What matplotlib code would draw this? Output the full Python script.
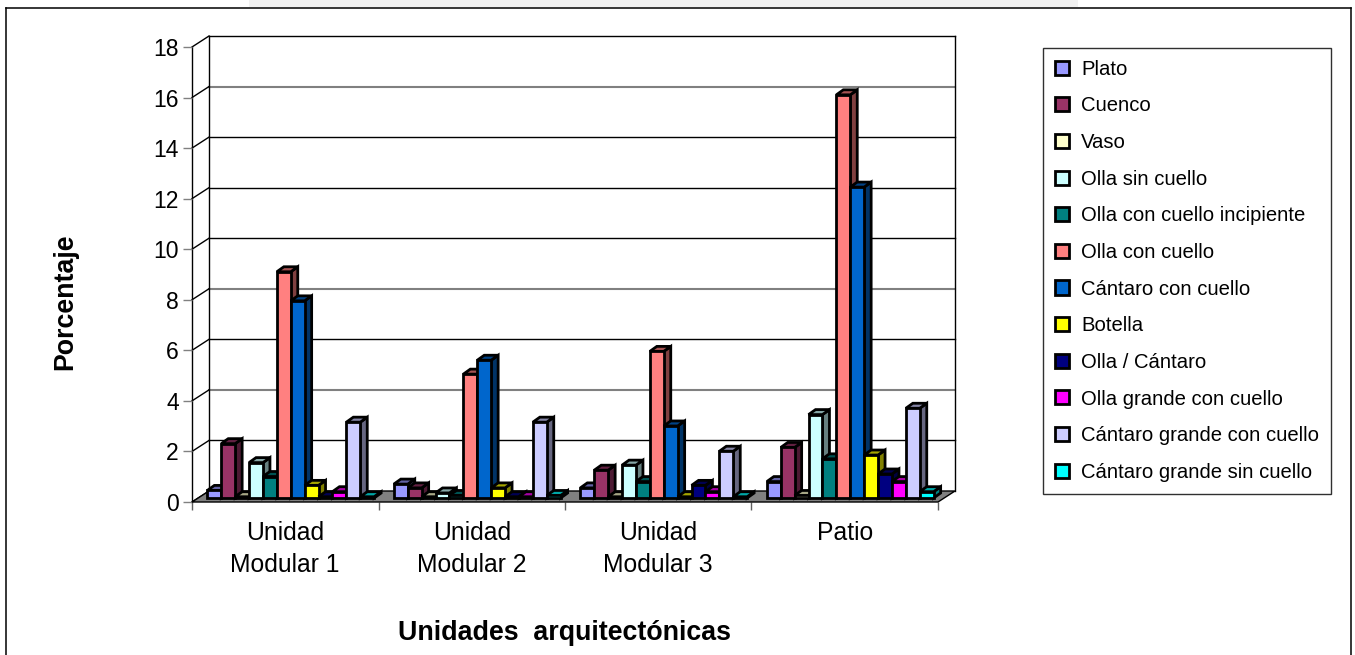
import numpy as np
import matplotlib
matplotlib.use("Agg")
import matplotlib.pyplot as plt
from matplotlib.patches import Polygon, Patch, Rectangle
from matplotlib.lines import Line2D

plt.rcParams['font.family'] = ['Liberation Sans', 'DejaVu Sans']

unidades = ["Unidad\nModular 1", "Unidad\nModular 2", "Unidad\nModular 3", "Patio"]
formas = ["Plato", "Cuenco", "Vaso", "Olla sin cuello", "Olla con cuello incipiente",
          "Olla con cuello", "Cántaro con cuello", "Botella", "Olla / Cántaro",
          "Olla grande con cuello", "Cántaro grande con cuello", "Cántaro grande sin cuello"]
colores = ["#9999FF", "#993366", "#FFFFCC", "#CCFFFF", "#008080", "#FF8080",
           "#0066CC", "#FFFF00", "#000080", "#FF00FF", "#CCCCFF", "#00FFFF"]

plato = [0.3, 0.55, 0.4, 0.65]
cuenco = [2.15, 0.4, 1.1, 2.0]
vaso = [0.05, 0.05, 0.05, 0.1]
olla_sin = [1.4, 0.2, 1.3, 3.3]
olla_incip = [0.85, 0.1, 0.65, 1.55]
olla_con = [8.95, 4.9, 5.8, 15.95]
cantaro_con = [7.8, 5.45, 2.85, 12.3]
botella = [0.5, 0.4, 0.05, 1.7]
olla_cantaro = [0.05, 0.05, 0.5, 0.95]
olla_grande = [0.25, 0.05, 0.25, 0.65]
cantaro_gr_con = [3.0, 3.0, 1.85, 3.55]
cantaro_gr_sin = [0.05, 0.1, 0.05, 0.25]
series = [plato, cuenco, vaso, olla_sin, olla_incip, olla_con, cantaro_con,
          botella, olla_cantaro, olla_grande, cantaro_gr_con, cantaro_gr_sin]

W, H = 1355, 655
# pixeles del plano frontal
X0, X1, Y0, Y18 = 192, 938, 502, 47
PX = 4 / (X1 - X0)
PY = 18 / (Y0 - Y18)
wall_dx, wall_dy = 17 * PX, 11 * PY
bar_ox, bar_oy = 5.5 * PX, 4 * PY
bar_dx, bar_dy = 7 * PX, 5 * PY
bar_w = 13.9 * PX


def sombra(color, f):
    r, g, b = matplotlib.colors.to_rgb(color)
    return (r * f, g * f, b * f)


def barra(ax, x, v, color, z):
    x0, y0 = x + bar_ox, bar_oy
    x1, y1 = x0 + bar_w, y0 + v
    kw = dict(edgecolor="black", linewidth=2.0, joinstyle="miter", clip_on=False, zorder=z)
    ax.add_patch(Polygon([(x1, y0), (x1 + bar_dx, y0 + bar_dy), (x1 + bar_dx, y1 + bar_dy), (x1, y1)],
                         facecolor=sombra(color, 0.5), **kw))
    ax.add_patch(Polygon([(x0, y1), (x1, y1), (x1 + bar_dx, y1 + bar_dy), (x0 + bar_dx, y1 + bar_dy)],
                         facecolor=sombra(color, 0.65), **kw))
    ax.add_patch(Rectangle((x0, y0), bar_w, v, facecolor=color, **kw))


fig = plt.figure(figsize=(W / 100, H / 100), dpi=100)
ax = fig.add_axes([X0 / W, 1 - Y0 / H, (X1 - X0) / W, (Y0 - Y18) / H])
ax.set_xlim(0, 4)
ax.set_ylim(0, 18)
ax.patch.set_visible(False)
for s in ax.spines.values():
    s.set_visible(False)

# paredes y rejilla
grises = {4, 8, 16}
for v in range(0, 20, 2):
    c = "#808080" if v in grises else "black"
    if v > 0:
        ax.plot([wall_dx, 4 + wall_dx], [v + wall_dy] * 2, color=c, lw=1.5 if v in grises else 1.0,
                clip_on=False, zorder=1)
    ax.plot([0, wall_dx], [v, v + wall_dy], color="black", lw=1.0, clip_on=False, zorder=1)
ax.plot([0, 0], [0, 18], color="black", lw=1.0, clip_on=False, zorder=1)
ax.plot([wall_dx, wall_dx], [wall_dy, 18 + wall_dy], color="black", lw=1.0, clip_on=False, zorder=1)
ax.plot([4 + wall_dx] * 2, [wall_dy, 18 + wall_dy], color="black", lw=1.0, clip_on=False, zorder=1)
ax.add_patch(Polygon([(0, 0), (4, 0), (4 + wall_dx, wall_dy), (wall_dx, wall_dy)],
                     facecolor="#808080", edgecolor="black", linewidth=1.0, clip_on=False, zorder=2))

for i in range(len(unidades)):
    for j, serie in enumerate(series):
        x = i + (j - len(series) / 2) * bar_w + 0.5
        barra(ax, x, serie[i], colores[j], 3 + i * 20 + j)

ax.set_yticks(range(0, 20, 2))
ax.tick_params(axis="y", length=6.5, width=1, color="#808080", labelsize=16.5, pad=3)
ax.set_xticks(range(5))
ax.set_xticklabels([])
ax.tick_params(axis="x", which="major", length=6, width=1, color="#606060")
ax.set_xticks(np.arange(4) + 0.5, minor=True)
ax.set_xticklabels(unidades, minor=True, fontsize=17.8, linespacing=1.44)
ax.tick_params(axis="x", which="minor", length=0, pad=13.5)

fig.text(65 / W, 1 - 302 / H, "Porcentaje", rotation=90, fontsize=19.3, fontweight="bold",
         ha="center", va="center")
fig.text(565 / W, 1 - 633.5 / H, "Unidades  arquitectónicas", fontsize=19.3, fontweight="bold",
         ha="center", va="center")

handles = [Patch(facecolor=c, edgecolor="black", linewidth=2.0) for c in colores]
fig.legend(handles, formas, loc="upper left", bbox_to_anchor=(1043 / W, 1 - 48 / H),
           borderaxespad=0, fancybox=False, framealpha=1, edgecolor="#303030",
           fontsize=14.6, handlelength=0.69, handleheight=0.69, handletextpad=0.62,
           labelspacing=0.87, borderpad=0.58)

# marco exterior y franja clara de arriba
fig.add_artist(Rectangle((249 / W, 1 - 7 / H), (1078 - 249) / W, 7 / H, transform=fig.transFigure,
                         facecolor="#F1F1F1", edgecolor="none"))
for xs, ys in [((6, 6), (8, 655)), ((6, 1351), (8, 8)), ((1351, 1351), (8, 655))]:
    fig.add_artist(Line2D([x / W for x in xs], [1 - y / H for y in ys], color="black", lw=1.1))

fig.savefig("out.png", dpi=100)
